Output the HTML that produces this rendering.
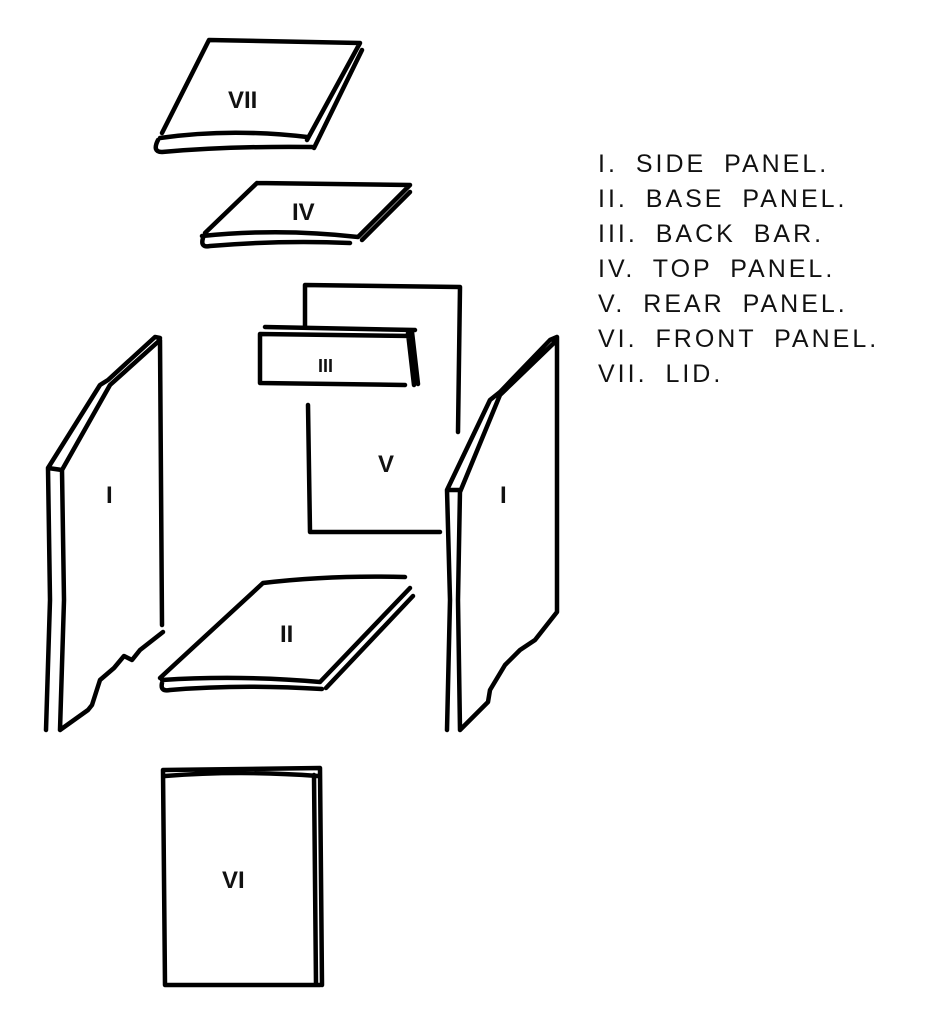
<!DOCTYPE html>
<html><head><meta charset="utf-8"><style>
html,body{margin:0;padding:0;background:#fff;}
svg{display:block}
.t{font-family:"Liberation Sans",sans-serif;font-size:24px;fill:#111;font-weight:bold}
.l{font-family:"Liberation Sans",sans-serif;font-size:25px;fill:#111;letter-spacing:3px;word-spacing:8px}
</style></head><body>
<svg width="948" height="1023" viewBox="0 0 948 1023" xmlns="http://www.w3.org/2000/svg">
<g fill="none" stroke="#000" stroke-width="4.5" stroke-linecap="round" stroke-linejoin="round">
<path d="M209,40 L360,43 M209,40 L162,133 M160,138 Q230,128 307,137 M158,140 Q152,152 162,152 Q230,146 312,147 M360,43 L307,140 M362,50 L314,148"/>
<path d="M257,183 L410,185 M257,183 L205,233 M202,236 Q280,228 358,237 M203,238 Q200,248 210,246 Q280,240 350,243 M410,185 L358,237 M410,192 L362,240"/>
<path d="M305,327 L305,285 L460,287 L458,432 M308,405 L310,532 L440,532"/>
<path d="M265,327 L415,330 M260,334 L260,383 L405,385 M260,334 L412,336 M412,332 L418,384 M408,333 L414,385"/>
<path d="M48,468 L50,600 L46,730 M62,470 L64,600 L60,730 M48,468 L62,470 M48,468 L100,385 L108,380 L155,337 L160,338 M62,470 L110,385 L160,340 M160,340 L162,625 M163,632 L140,650 L132,660 L124,656 L114,668 L100,680 L92,705 L88,710 L60,730"/>
<path d="M447,490 L450,600 L447,730 M460,490 L458,600 L460,730 M447,490 L460,490 M447,490 L490,400 L500,392 L550,340 L557,337 M460,492 L500,395 L557,340 M557,337 L557,612 M557,612 L535,640 L520,650 L505,665 L490,690 L488,702 L460,730"/>
<path d="M263,583 Q330,575 405,577 M263,583 L160,678 M162,680 Q240,675 320,682 M162,683 Q160,692 170,690 Q240,684 322,689 M410,588 L320,682 M413,596 L326,688"/>
<path d="M163,770 L320,768 M165,776 Q240,770 318,776 M163,770 L165,985 L320,985 M314,775 L316,985 M320,768 L322,985"/>
</g>
<text class="t" x="228" y="108">VII</text>
<text class="t" x="292" y="220">IV</text>
<text class="t" x="318" y="372" style="font-size:18px">III</text>
<text class="t" x="378" y="472">V</text>
<text class="t" x="106" y="503">I</text>
<text class="t" x="500" y="503">I</text>
<text class="t" x="280" y="642">II</text>
<text class="t" x="222" y="888">VI</text>
<text class="l" x="598" y="172">I. SIDE PANEL.</text>
<text class="l" x="598" y="207">II. BASE PANEL.</text>
<text class="l" x="598" y="242">III. BACK BAR.</text>
<text class="l" x="598" y="277">IV. TOP PANEL.</text>
<text class="l" x="598" y="312">V. REAR PANEL.</text>
<text class="l" x="598" y="347">VI. FRONT PANEL.</text>
<text class="l" x="598" y="382">VII. LID.</text>
</svg>
</body></html>
